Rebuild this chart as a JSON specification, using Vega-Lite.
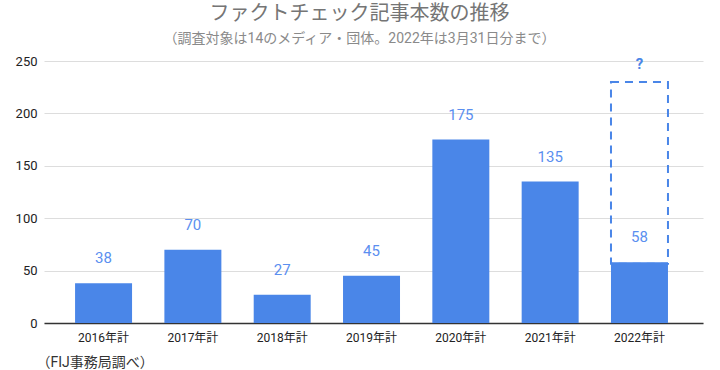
{
  "$schema": "https://vega.github.io/schema/vega-lite/v6.json",
  "autosize": {"type": "none"},
  "padding": {"left": 44, "top": 61, "right": 17, "bottom": 47},
  "width": 659,
  "height": 262,
  "config": {
    "font": "Roboto, 'Noto Sans CJK JP'",
    "view": {"stroke": null}
  },
  "title": {
    "text": "ファクトチェック記事本数の推移",
    "subtitle": "（調査対象は14のメディア・団体。2022年は3月31日分まで）",
    "fontSize": 20,
    "fontWeight": "normal",
    "color": "#757575",
    "subtitleFontSize": 14,
    "subtitleColor": "#8a8a8a",
    "subtitlePadding": 8,
    "anchor": "middle",
    "dx": -14,
    "offset": 9,
    "font": "Roboto, 'Noto Sans CJK JP'",
    "subtitleFont": "Roboto, 'Noto Sans CJK JP'"
  },
  "datasets": {
    "counts": [
      {"year": "2016年計", "value": 38},
      {"year": "2017年計", "value": 70},
      {"year": "2018年計", "value": 27},
      {"year": "2019年計", "value": 45},
      {"year": "2020年計", "value": 175},
      {"year": "2021年計", "value": 135},
      {"year": "2022年計", "value": 58}
    ],
    "unknown": [
      {"year": "2022年計", "low": 58, "high": 230, "label": "?"}
    ]
  },
  "encoding": {
    "x": {
      "field": "year",
      "type": "nominal",
      "sort": null,
      "scale": {
        "domain": ["2016年計", "2017年計", "2018年計", "2019年計", "2020年計", "2021年計", "2022年計"],
        "paddingInner": 0.362,
        "paddingOuter": 0.37,
        "align": 0.47
      },
      "axis": {
        "title": "（FIJ事務局調べ）",
        "titleAnchor": "start",
        "titleAlign": "left",
        "titleX": -8,
        "titleY": 39,
        "titleFontSize": 14,
        "titleFontWeight": "normal",
        "titleColor": "#333333",
        "titleBaseline": "middle",
        "labelAngle": 0,
        "labelFontSize": 12,
        "labelColor": "#222222",
        "labelPadding": 9,
        "ticks": false,
        "domainColor": "#333333",
        "domainWidth": 1.5,
        "grid": false
      }
    }
  },
  "layer": [
    {
      "data": {"name": "unknown"},
      "mark": {"type": "bar", "filled": false, "stroke": "#4a86e8", "strokeWidth": 2, "strokeDash": [8, 6], "fill": null, "yOffset": 1.5},
      "encoding": {
        "y": {"field": "low", "type": "quantitative", "scale": {"domain": [0, 250], "nice": false}},
        "y2": {"field": "high"}
      }
    },
    {
      "data": {"name": "counts"},
      "mark": {"type": "bar", "color": "#4a86e8"},
      "encoding": {
        "y": {
          "field": "value",
          "type": "quantitative",
          "scale": {"domain": [0, 250], "nice": false},
          "axis": {
            "title": null,
            "values": [0, 50, 100, 150, 200, 250],
            "labelFontSize": 13,
            "labelColor": "#222222",
            "labelPadding": 7,
            "ticks": false,
            "domain": false,
            "gridColor": "#dddddd",
            "gridWidth": 1
          }
        }
      }
    },
    {
      "data": {"name": "counts"},
      "mark": {"type": "text", "dy": -25, "baseline": "middle", "fontSize": 15, "color": "#5b8ff0"},
      "encoding": {
        "y": {"field": "value", "type": "quantitative", "scale": {"domain": [0, 250], "nice": false}},
        "text": {"field": "value", "type": "quantitative"}
      }
    },
    {
      "data": {"name": "unknown"},
      "mark": {"type": "text", "dy": -18, "baseline": "middle", "fontSize": 15, "fontWeight": "bold", "color": "#4a86e8"},
      "encoding": {
        "y": {"field": "high", "type": "quantitative", "scale": {"domain": [0, 250], "nice": false}},
        "text": {"field": "label"}
      }
    }
  ]
}
